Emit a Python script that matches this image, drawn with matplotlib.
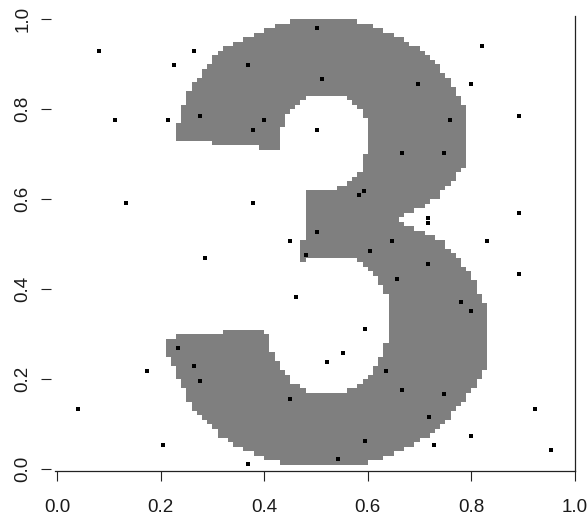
import numpy as np
import matplotlib
matplotlib.use("Agg")
import matplotlib.pyplot as plt
from matplotlib.path import Path
from matplotlib.colors import ListedColormap

# outline of the digit, traced clockwise from the upper terminal
digit_x = [0.232, 0.232, 0.241, 0.257, 0.276, 0.301, 0.330, 0.373, 0.415, 0.456,
           0.579, 0.620, 0.662, 0.701, 0.734, 0.763, 0.784, 0.793, 0.793, 0.784,
           0.763, 0.734, 0.701, 0.653, 0.701, 0.743, 0.774, 0.803, 0.822, 0.834,
           0.834, 0.824, 0.805, 0.784, 0.753, 0.724, 0.691, 0.653, 0.618, 0.579,
           0.456, 0.415, 0.386, 0.353, 0.320, 0.292, 0.266, 0.251, 0.237, 0.222,
           0.208, 0.208, 0.272, 0.367, 0.403, 0.407, 0.421, 0.440, 0.459, 0.488,
           0.560, 0.585, 0.610, 0.629, 0.639, 0.639, 0.624, 0.604, 0.585, 0.569,
           0.494, 0.469, 0.469, 0.475, 0.475, 0.527, 0.556, 0.579, 0.593, 0.598,
           0.598, 0.579, 0.556, 0.527, 0.488, 0.465, 0.444, 0.431, 0.425, 0.384,
           0.311]
digit_y = [0.729, 0.758, 0.798, 0.847, 0.876, 0.913, 0.942, 0.964, 0.982, 0.996,
           0.996, 0.980, 0.958, 0.933, 0.904, 0.853, 0.809, 0.787, 0.698, 0.669,
           0.638, 0.602, 0.582, 0.551, 0.531, 0.509, 0.471, 0.427, 0.376, 0.353,
           0.253, 0.220, 0.180, 0.153, 0.109, 0.076, 0.058, 0.036, 0.020, 0.007,
           0.007, 0.020, 0.031, 0.047, 0.069, 0.102, 0.127, 0.164, 0.193, 0.238,
           0.253, 0.293, 0.300, 0.311, 0.316, 0.282, 0.242, 0.213, 0.189, 0.173,
           0.173, 0.187, 0.220, 0.260, 0.287, 0.376, 0.413, 0.442, 0.460, 0.469,
           0.469, 0.460, 0.509, 0.509, 0.616, 0.620, 0.631, 0.653, 0.680, 0.731,
           0.776, 0.807, 0.827, 0.831, 0.831, 0.809, 0.787, 0.742, 0.709, 0.716,
           0.724]

# sample points
pts_x = [0.081, 0.264, 0.226, 0.369, 0.112, 0.214, 0.276, 0.400, 0.378, 0.133,
         0.378, 0.450, 0.286, 0.502, 0.820, 0.512, 0.697, 0.799, 0.892, 0.759,
         0.502, 0.666, 0.747, 0.593, 0.583, 0.892, 0.716, 0.716, 0.502, 0.647,
         0.830, 0.604, 0.481, 0.716, 0.656, 0.461, 0.780, 0.799, 0.595, 0.234,
         0.264, 0.276, 0.174, 0.450, 0.041, 0.205, 0.369, 0.892, 0.552, 0.521,
         0.635, 0.666, 0.747, 0.923, 0.718, 0.799, 0.595, 0.728, 0.954, 0.542]
pts_y = [0.929, 0.929, 0.898, 0.898, 0.776, 0.776, 0.784, 0.776, 0.753, 0.591,
         0.591, 0.507, 0.469, 0.980, 0.940, 0.867, 0.856, 0.856, 0.784, 0.776,
         0.753, 0.702, 0.702, 0.618, 0.609, 0.569, 0.558, 0.547, 0.527, 0.507,
         0.507, 0.484, 0.476, 0.456, 0.422, 0.382, 0.371, 0.351, 0.311, 0.269,
         0.229, 0.196, 0.218, 0.156, 0.133, 0.053, 0.011, 0.433, 0.258, 0.238,
         0.218, 0.176, 0.167, 0.133, 0.116, 0.073, 0.062, 0.053, 0.042, 0.022]

ticks = [0.0, 0.2, 0.4, 0.6, 0.8, 1.0]
tick_labels = ["0.0", "0.2", "0.4", "0.6", "0.8", "1.0"]

n = 100
# rasterise the outline onto an n x n grid of cells
centers = (np.arange(n) + 0.5) / n
gx, gy = np.meshgrid(centers, centers)
outline = Path(np.column_stack([digit_x, digit_y]))
mask = outline.contains_points(np.column_stack([gx.ravel(), gy.ravel()])).reshape(n, n)

plt.rcParams["font.family"] = ["Liberation Sans", "DejaVu Sans"]
fig = plt.figure(figsize=(5.87, 5.21), dpi=100)
ax = fig.add_axes([0.0937, 0.0960, 0.8859, 0.8733])

ax.imshow(mask.astype(int), origin="lower", extent=[0, 1, 0, 1],
          cmap=ListedColormap(["white", "#7f7f7f"]), interpolation="nearest",
          aspect="auto", vmin=0, vmax=1)
ax.plot(pts_x, pts_y, "s", color="black", markersize=3.0, markeredgewidth=0)

ax.set_xlim(-0.004, 1.0)
ax.set_ylim(-0.0044, 1.0067)

ax.spines["top"].set_visible(False)
ax.spines["left"].set_position(("outward", 2.9))
ax.spines["left"].set_visible(False)
for s in ["bottom", "right"]:
    ax.spines[s].set_linewidth(0.9)
    ax.spines[s].set_color("#222222")

ax.set_xticks(ticks)
ax.set_xticklabels(tick_labels)
ax.set_yticks(ticks)
ax.set_yticklabels(tick_labels, rotation=90, va="center")
ax.tick_params(axis="both", direction="out", length=7.2, width=0.8,
               color="#222222", labelsize=13.5, labelcolor="#1a1a1a")
ax.tick_params(axis="x", pad=13)
ax.tick_params(axis="y", pad=7)

fig.savefig("out.png", dpi=100)
